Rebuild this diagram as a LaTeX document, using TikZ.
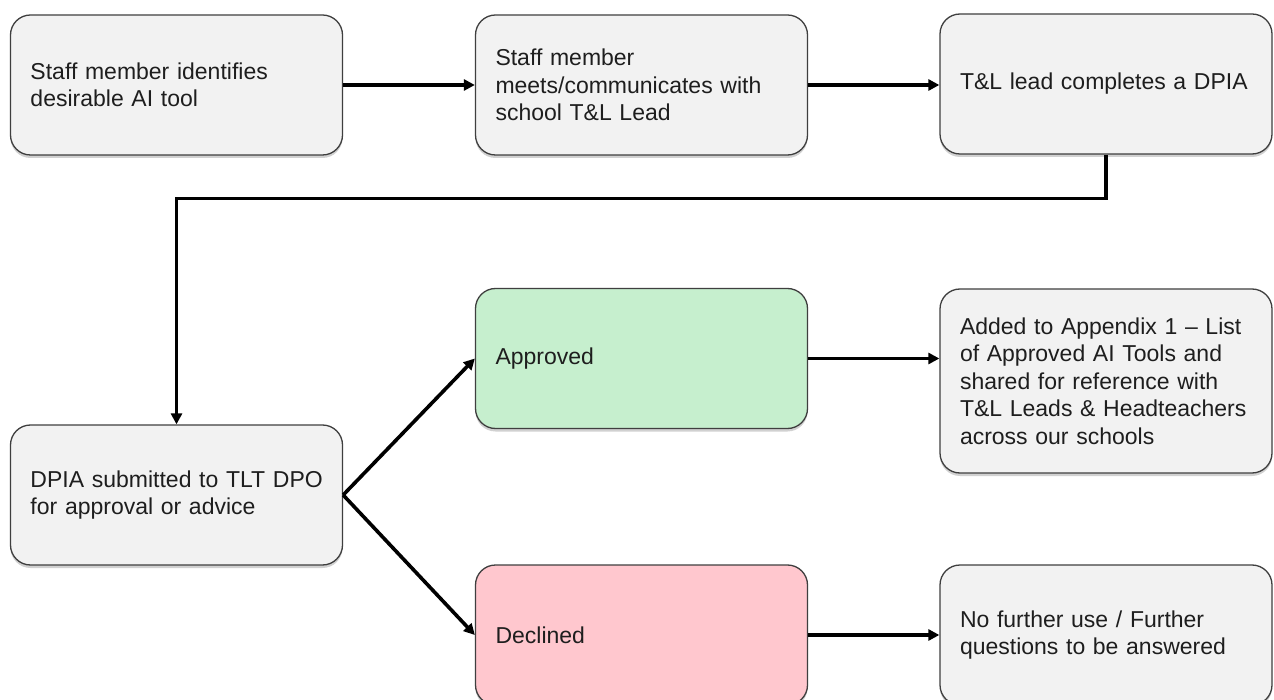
\documentclass[tikz,border=0pt]{standalone}
\usepackage{fontspec}
\setmainfont{Liberation Sans}
\usetikzlibrary{arrows.meta,shadows,positioning}
\definecolor{boxgray}{HTML}{F2F2F2}
\definecolor{boxline}{HTML}{3F3F3F}
\definecolor{okgreen}{HTML}{C6EFCE}
\definecolor{nopink}{HTML}{FFC7CE}
\definecolor{txt}{HTML}{1E1E1E}
\tikzset{
  flowbox/.style={draw=boxline, line width=1.3pt, fill=boxgray, rounded corners=20pt,
    minimum width=332pt, minimum height=140pt, text width=292pt, inner xsep=20pt,
    align=left, text=txt, font=\fontsize{23}{27.5}\selectfont,
    drop shadow={shadow xshift=0pt, shadow yshift=-3pt, opacity=0.18, fill=black}},
  okbox/.style={flowbox, fill=okgreen},
  nobox/.style={flowbox, fill=nopink},
  flowarrow/.style={line width=3.6pt, -{Triangle[length=11pt,width=11pt]}}
}
\begin{document}
\begin{tikzpicture}[x=1pt,y=1pt]
\useasboundingbox (0,0) rectangle (1274,-700);
\fill[white] (0,0) rectangle (1274,-700);
\begin{scope}
\clip (0,0) rectangle (1274,-700);
\node[flowbox] (b1) at (176.5,-85) {Staff member identifies\\desirable AI tool};
\node[flowbox] (b2) at (641.5,-85) {Staff member\\meets/communicates with\\school T\&L Lead};
\node[flowbox] (b3) at (1106,-84) {T\&L lead completes a DPIA};
\node[flowbox] (b4) at (176.5,-495) {\mbox{DPIA submitted to TLT DPO}\\for approval or advice};
\node[okbox] (app) at (641.5,-358.5) {Approved};
\node[flowbox, minimum height=184pt] (add) at (1106,-381) {Added to Appendix 1 -- List\\of Approved AI Tools and\\shared for reference with\\T\&L Leads \& Headteachers\\across our schools};
\node[nobox] (dec) at (641.5,-635) {Declined};
\node[flowbox] (nof) at (1106,-635) {No further use / Further\\questions to be answered};

\draw[flowarrow] (b1.east) -- (b2.west);
\draw[flowarrow] (b2.east) -- (b2.east -| b3.west);
\draw[flowarrow, rounded corners=0pt] (b3.south) -- ++(0,-44) -| (b4.north);
\draw[flowarrow] (b4.east) -- (app.west);
\draw[flowarrow] (b4.east) -- (dec.west);
\draw[flowarrow] (app.east) -- (app.east -| add.west);
\draw[flowarrow] (dec.east) -- (nof.west);
\end{scope}
\end{tikzpicture}
\end{document}
